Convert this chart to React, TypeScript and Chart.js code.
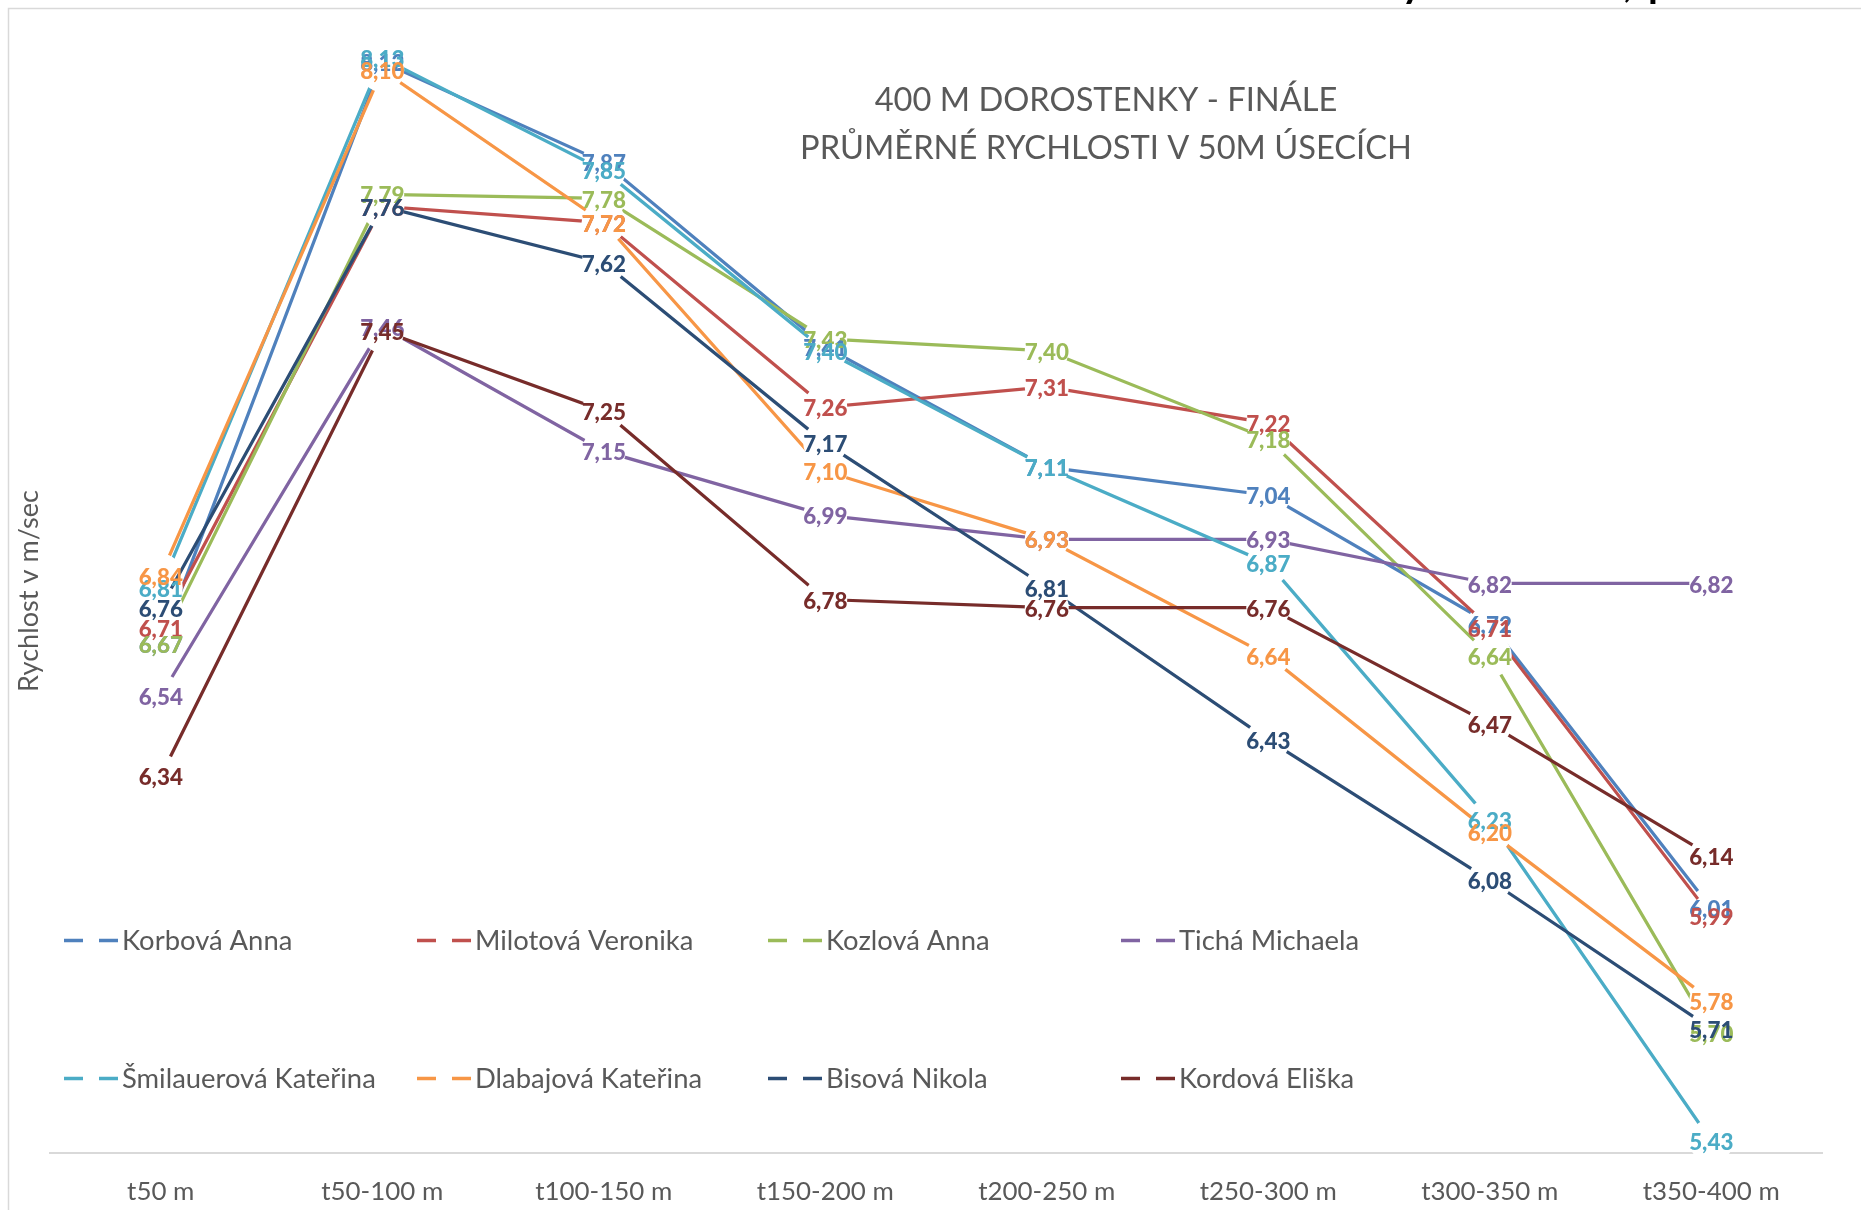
import React, { useEffect, useRef } from 'react';
import { Chart, registerables } from 'chart.js';

Chart.register(...registerables);

// ---------- data ----------
const categories = ['t50 m', 't50-100 m', 't100-150 m', 't150-200 m', 't200-250 m', 't250-300 m', 't300-350 m', 't350-400 m'];

const korbova = [6.67, 8.12, 7.87, 7.41, 7.11, 7.04, 6.72, 6.01];
const milotova = [6.71, 7.76, 7.72, 7.26, 7.31, 7.22, 6.71, 5.99];
const kozlova = [6.67, 7.79, 7.78, 7.43, 7.40, 7.18, 6.64, 5.70];
const ticha = [6.54, 7.46, 7.15, 6.99, 6.93, 6.93, 6.82, 6.82];
const smilauerova = [6.81, 8.13, 7.85, 7.40, 7.11, 6.87, 6.23, 5.43];
const dlabajova = [6.84, 8.10, 7.72, 7.10, 6.93, 6.64, 6.20, 5.78];
const bisova = [6.76, 7.76, 7.62, 7.17, 6.81, 6.43, 6.08, 5.71];
const kordova = [6.34, 7.45, 7.25, 6.78, 6.76, 6.76, 6.47, 6.14];

const seriesNames = [
  'Korbová Anna',
  'Milotová Veronika',
  'Kozlová Anna',
  'Tichá Michaela',
  'Šmilauerová Kateřina',
  'Dlabajová Kateřina',
  'Bisová Nikola',
  'Kordová Eliška',
];
const seriesValues = [korbova, milotova, kozlova, ticha, smilauerova, dlabajova, bisova, kordova];
const seriesColors = ['#4F81BD', '#C0504D', '#9BBB59', '#8064A2', '#4BACC6', '#F79646', '#2C4D75', '#772C2A'];

const titleLines = ['400 M DOROSTENKY - FINÁLE', 'PRŮMĚRNÉ RYCHLOSTI V 50M ÚSECÍCH'];
const yAxisTitle = 'Rychlost v m/sec';
const yMin = 5.4;
const yMax = 8.2;

// ---------- styling helpers ----------
const FONT = 'Lato, "Open Sans", sans-serif';
const TEXT_GRAY = '#595959';

function fitSize(text: string, weight: string, target: number): number {
  const c = document.createElement('canvas').getContext('2d')!;
  c.font = `${weight} 100px ${FONT}`;
  return (100 * target) / c.measureText(text).width;
}

function fmt(v: number): string {
  return v.toFixed(2).replace('.', ',');
}

export default function App() {
  const ref = useRef<HTMLCanvasElement | null>(null);

  useEffect(() => {
    const canvas = ref.current;
    if (!canvas) return;

    const axisFs = fitSize('t50-100 m', 'normal', 122);
    const legendFs = fitSize('Šmilauerová Kateřina', 'normal', 254);
    const titleFs = fitSize(titleLines[1], 'normal', 612);
    const labelFs = fitSize('6,34', '900', 41.7) * 1.06;
    const yTitleFs = fitSize(yAxisTitle, 'normal', 202);

    const overlay = {
      id: 'overlay',
      afterDatasetsDraw(chart: any) {
        const ctx = chart.ctx;
        ctx.save();
        ctx.font = `900 ${labelFs}px ${FONT}`;
        ctx.textAlign = 'center';
        ctx.textBaseline = 'alphabetic';
        for (let i = 0; i < seriesValues.length; i++) {
          const meta = chart.getDatasetMeta(i);
          ctx.fillStyle = seriesColors[i];
          meta.data.forEach((pt: any, j: number) => {
            ctx.fillText(fmt(seriesValues[i][j]), pt.x, pt.y + 0.36 * labelFs + 1);
          });
        }
        ctx.restore();
      },
      afterDraw(chart: any) {
        const ctx = chart.ctx;
        ctx.save();
        // chart border (clipped by picture edge on right/bottom)
        ctx.strokeStyle = '#D9D9D9';
        ctx.lineWidth = 1.5;
        ctx.strokeRect(8.5, 8.5, 2000, 2000);

        // title
        ctx.fillStyle = TEXT_GRAY;
        ctx.font = `normal ${titleFs}px ${FONT}`;
        ctx.textAlign = 'center';
        ctx.textBaseline = 'alphabetic';
        ctx.fillText(titleLines[0], 1106, 99.5 + 0.358 * titleFs);
        ctx.fillText(titleLines[1], 1106, 147 + 0.358 * titleFs);

        // y axis title
        ctx.save();
        ctx.translate(30 + 0.3 * yTitleFs, 591);
        ctx.rotate(-Math.PI / 2);
        ctx.font = `normal ${yTitleFs}px ${FONT}`;
        ctx.textAlign = 'center';
        ctx.fillText(yAxisTitle, 0, 0);
        ctx.restore();

        // legend
        const cols = [65, 418, 769, 1122];
        const rows = [940.5, 1078.5];
        ctx.font = `normal ${legendFs}px ${FONT}`;
        ctx.textAlign = 'left';
        seriesNames.forEach((name, i) => {
          const mx = cols[i % 4];
          const my = rows[Math.floor(i / 4)];
          ctx.strokeStyle = seriesColors[i];
          ctx.lineWidth = 3.5;
          ctx.lineCap = 'butt';
          ctx.beginPath();
          ctx.moveTo(mx - 1, my);
          ctx.lineTo(mx + 18, my);
          ctx.moveTo(mx + 34, my);
          ctx.lineTo(mx + 53, my);
          ctx.stroke();
          ctx.fillStyle = TEXT_GRAY;
          ctx.fillText(name, mx + 57, my + 0.33 * legendFs);
        });

        // clipped fragments of an outer heading above the picture
        ctx.fillStyle = '#000';
        ctx.font = `bold 40px ${FONT}`;
        ctx.textAlign = 'center';
        ctx.fillText('y', 1412, -3);
        ctx.fillText(',', 1628, -3);
        ctx.textAlign = 'left';
        ctx.fillText('p', 1648, -3);
        ctx.restore();
      },
    };

    const chart = new Chart(canvas, {
      type: 'line',
      data: {
        labels: categories,
        datasets: seriesValues.map((vals, i) => ({
          label: seriesNames[i],
          data: vals,
          borderColor: seriesColors[i],
          backgroundColor: seriesColors[i],
          borderWidth: 3.25,
          tension: 0,
          fill: false,
          pointRadius: 22,
          pointHoverRadius: 22,
          pointBackgroundColor: '#FFFFFF',
          pointBorderColor: '#FFFFFF',
          pointBorderWidth: 0,
          clip: false,
          order: seriesValues.length - i,
        })),
      },
      options: {
        responsive: false,
        animation: false,
        events: [],
        layout: { padding: { left: 50, right: 39, top: 30, bottom: 0 } },
        plugins: {
          legend: { display: false },
          title: { display: false },
          tooltip: { enabled: false },
        },
        scales: {
          x: {
            offset: true,
            grid: { display: false, drawTicks: false },
            border: { display: true, color: '#D9D9D9', width: 2 },
            ticks: {
              color: TEXT_GRAY,
              padding: 23.5,
              maxRotation: 0,
              autoSkip: false,
              font: { family: FONT, size: axisFs },
            },
            afterFit: (scale: any) => {
              scale.height = 57;
            },
          },
          y: {
            display: false,
            min: yMin,
            max: yMax,
          },
        },
      },
      plugins: [overlay],
    } as any);

    return () => chart.destroy();
  }, []);

  return (
    <div style={{ position: 'fixed', left: 0, top: 0, width: 1861, height: 1210, background: '#fff' }}>
      <canvas ref={ref} width={1861} height={1210} style={{ width: 1861, height: 1210, display: 'block' }} />
    </div>
  );
}
